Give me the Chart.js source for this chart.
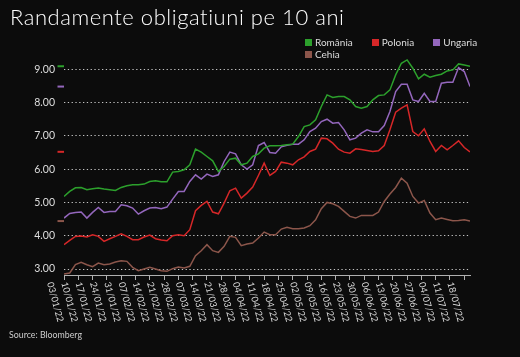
<!DOCTYPE html>
<html>
<head>
<meta charset="utf-8">
<script src="https://cdn.jsdelivr.net/npm/chart.js@4.4.1/dist/chart.umd.min.js"></script>
<style>
  html, body { margin:0; padding:0; background:#0c0c0c; width:520px; height:357px; overflow:hidden; }
  #wrap { position:relative; width:520px; height:357px; }
  #c { position:absolute; left:0; top:0; }
  #title { position:absolute; left:10px; top:6px; font-family:Lato, sans-serif; font-weight:300; font-size:22px; letter-spacing:0.55px; line-height:22px; color:#fff; white-space:nowrap; }
  #legend { position:absolute; left:305px; top:36px; width:200px; display:flex; flex-wrap:wrap; column-gap:19px; row-gap:0; }
  .li { display:inline-flex; align-items:center; height:12px; font-family:Lato, sans-serif; font-size:10px; line-height:12px; color:#ddd; white-space:nowrap; }
  .li span.b { display:inline-block; width:7px; height:7px; margin-right:3px; }
  #source { position:absolute; left:9px; top:330px; font-family:Lato, sans-serif; font-size:8.8px; line-height:9px; color:#ccc; white-space:nowrap; }
</style>
</head>
<body>
<div id="wrap">
  <canvas id="c" width="520" height="357"></canvas>
  <div id="title">Randamente obligatiuni pe 10 ani</div>
  <div id="legend"></div>
  <div id="source">Source: Bloomberg</div>
</div>
<script>
// business-day index (0 = 03/01/22)
const days = [0,2,4,6,8,10,12,14,16,18,20,22,24,26,28,30,32,34,36,38,40,42,44,46,48,50,52,54,56,58,60,62,64,66,68,70,72,74,76,78,80,82,84,86,88,90,92,94,96,98,100,102,104,106,108,110,112,114,116,118,120,122,124,126,128,130,132,134,136,138,140,142];

const romania = [5.18,5.33,5.44,5.45,5.38,5.41,5.43,5.40,5.38,5.36,5.45,5.50,5.53,5.53,5.55,5.63,5.65,5.62,5.62,5.91,5.93,5.98,6.13,6.60,6.51,6.38,6.25,5.93,6.08,6.30,6.33,6.13,6.18,6.38,6.46,6.63,6.70,6.70,6.71,6.73,6.75,6.98,7.28,7.33,7.48,7.88,8.23,8.15,8.18,8.18,8.08,7.88,7.83,7.88,8.08,8.21,8.23,8.38,8.83,9.18,9.28,9.03,8.71,8.85,8.76,8.81,8.85,8.95,8.98,9.16,9.13,9.09];

const polonia = [3.73,3.86,3.98,3.99,3.96,4.03,3.98,3.83,3.91,3.98,4.06,3.98,3.88,3.88,3.96,4.02,3.91,3.87,3.85,4.00,4.03,4.00,4.18,4.75,4.91,5.03,4.71,4.66,4.98,5.35,5.43,5.13,5.28,5.46,5.81,6.18,5.81,5.93,6.21,6.18,6.13,6.28,6.37,6.53,6.60,6.93,6.91,6.78,6.60,6.51,6.48,6.61,6.59,6.56,6.53,6.55,6.71,7.18,7.71,7.83,7.93,7.13,7.00,7.21,6.83,6.53,6.71,6.58,6.71,6.85,6.65,6.52];

const ungaria = [4.53,4.67,4.70,4.71,4.53,4.70,4.85,4.70,4.73,4.73,4.93,4.90,4.83,4.65,4.75,4.83,4.85,4.81,4.86,5.10,5.33,5.33,5.63,5.83,5.70,5.85,5.78,5.83,6.23,6.51,6.46,6.13,6.00,6.13,6.71,6.80,6.50,6.48,6.67,6.72,6.75,6.75,6.88,7.13,7.23,7.43,7.50,7.38,7.40,7.18,6.88,6.93,7.08,7.18,7.12,7.12,7.31,7.73,8.33,8.55,8.55,8.08,8.03,8.28,8.03,8.03,8.58,8.61,8.61,9.05,8.93,8.48];

const cehia = [2.85,2.88,3.13,3.20,3.13,3.07,3.18,3.13,3.15,3.21,3.25,3.23,3.05,2.95,3.00,3.05,3.00,2.95,2.93,3.01,3.06,3.03,3.08,3.40,3.55,3.73,3.55,3.50,3.68,3.98,3.95,3.70,3.75,3.78,3.93,4.11,4.03,4.03,4.20,4.25,4.21,4.21,4.23,4.30,4.48,4.81,5.00,4.96,4.88,4.73,4.58,4.53,4.61,4.61,4.61,4.71,5.03,5.25,5.45,5.73,5.58,5.18,4.98,5.06,4.68,4.48,4.53,4.49,4.45,4.46,4.48,4.44];

const seriesNames = ['România','Polonia','Ungaria','Cehia'];
const seriesColors = ['#2ca02c','#d62728','#9467bd','#8c564b'];
const yTicks = [3,4,5,6,7,8,9];
const tickLabels = ['03/01/22','10/01/22','17/01/22','24/01/22','31/01/22','07/02/22','14/02/22','21/02/22','28/02/22','07/03/22','14/03/22','21/03/22','28/03/22','04/04/22','11/04/22','18/04/22','25/04/22','02/05/22','09/05/22','16/05/22','23/05/22','30/05/22','06/06/22','13/06/22','20/06/22','27/06/22','04/07/22','11/07/22','18/07/22'];
const tickStep = 5; // business days per week

// legend (HTML)
const lg = document.getElementById('legend');
seriesNames.forEach((n,i)=>{
  const d = document.createElement('div'); d.className='li';
  const b = document.createElement('span'); b.className='b'; b.style.background = seriesColors[i];
  d.appendChild(b); d.appendChild(document.createTextNode(n)); lg.appendChild(d);
});

const allSeries = [romania, polonia, ungaria, cehia];
const datasets = allSeries.map((s,i)=>({
  label: seriesNames[i],
  data: days.map((d,j)=>({x:d, y:s[j]})),
  borderColor: seriesColors[i],
  backgroundColor: seriesColors[i],
  borderWidth: 1.5,
  pointRadius: 0,
  tension: 0,
  fill: false
}));

const extras = {
  id: 'extras',
  afterDraw(chart) {
    const ctx = chart.ctx, xs = chart.scales.x, ys = chart.scales.y;
    // last-value markers
    ctx.save();
    ctx.lineWidth = 2;
    allSeries.forEach((s,i)=>{
      const py = ys.getPixelForValue(s[s.length-1]);
      ctx.strokeStyle = seriesColors[i];
      ctx.beginPath(); ctx.moveTo(xs.left - 6.5, py); ctx.lineTo(xs.left, py); ctx.stroke();
    });
    ctx.restore();
    // rotated x tick labels
    ctx.save();
    ctx.font = '9.3px Lato, sans-serif';
    ctx.fillStyle = '#dddddd';
    ctx.textAlign = 'left';
    ctx.textBaseline = 'alphabetic';
    xs.ticks.forEach((t,k)=>{
      const px = xs.getPixelForValue(t.value);
      ctx.save();
      ctx.translate(px - 17, xs.top + 8);
      ctx.rotate(75 * Math.PI / 180);
      ctx.fillText(tickLabels[k] || '', 0, 0);
      ctx.restore();
    });
    ctx.restore();
  }
};

new Chart(document.getElementById('c'), {
  type: 'line',
  data: { datasets },
  plugins: [extras],
  options: {
    responsive: false,
    animation: false,
    devicePixelRatio: 1,
    layout: { padding: { left: 0, top: 57.6, right: 50, bottom: 82 } },
    plugins: { legend: { display: false }, tooltip: { enabled: false }, title: { display: false } },
    scales: {
      x: {
        type: 'linear', min: 0, max: 142,
        afterBuildTicks: s => { s.ticks = tickLabels.map((_,k)=>({ value: k * tickStep })); },
        afterFit: s => { s.height = 0; },
        ticks: { display: false },
        grid: { drawOnChartArea: false, drawTicks: true, tickLength: 5, color: '#b0b0b0', lineWidth: 1 },
        border: { display: true, color: '#b0b0b0', width: 1 }
      },
      y: {
        type: 'linear', min: 2.82, max: 9.35,
        afterBuildTicks: s => { s.ticks = yTicks.map(v=>({ value: v })); },
        afterFit: s => { s.width = 64; },
        ticks: { padding: 9, color: '#dddddd', font: { family: 'Lato', size: 10.5 }, callback: v => Number(v).toFixed(2) },
        grid: { color: 'rgba(215,215,215,0.9)', lineWidth: 1, drawTicks: false },
        border: { display: false, dash: [1.3, 2.5] }
      }
    }
  }
});
</script>
</body>
</html>
